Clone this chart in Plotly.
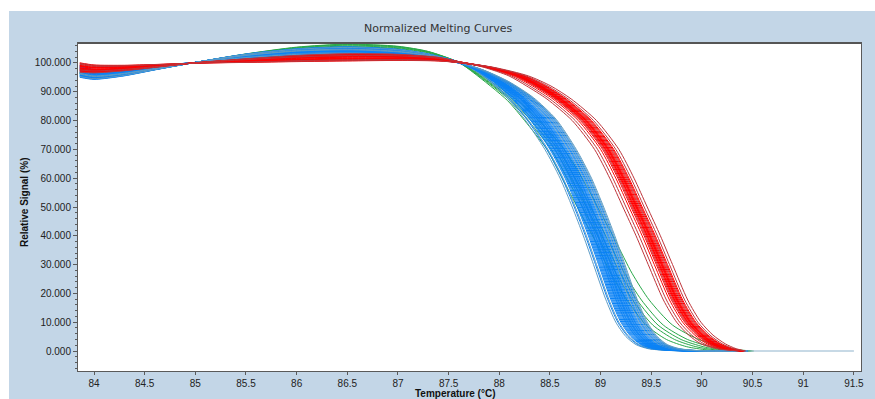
import plotly.graph_objects as go

# ---------------- data ----------------
x_ticks = [84, 84.5, 85, 85.5, 86, 86.5, 87, 87.5, 88, 88.5, 89, 89.5, 90, 90.5, 91, 91.5]
x_tick_text = ["84", "84.5", "85", "85.5", "86", "86.5", "87", "87.5", "88", "88.5",
               "89", "89.5", "90", "90.5", "91", "91.5"]
y_ticks = [0, 10, 20, 30, 40, 50, 60, 70, 80, 90, 100]
y_tick_text = ["0.000", "10.000", "20.000", "30.000", "40.000", "50.000", "60.000",
               "70.000", "80.000", "90.000", "100.000"]

# red group: centre curve, plateau spread weight, melt shift weight
red_T = [83.86, 84.0, 84.3, 84.6, 85.0, 85.5, 86.0, 86.5, 87.0, 87.4, 87.6, 87.9, 88.2, 88.4,
         88.6, 88.85, 89.07, 89.22, 89.35, 89.48, 89.6, 89.75, 89.88, 90.0, 90.12, 90.25, 90.4]
red_Y = [98.5, 98.0, 98.3, 99.0, 100.0, 100.8, 101.5, 101.9, 101.9, 101.3, 100.3, 98.5, 95.5, 92.0,
         87.5, 80.0, 70.0, 60.0, 50.0, 40.0, 30.0, 17.7, 10.0, 5.5, 2.5, 0.8, 0.0]
red_g = [-1.3, -1.1, -0.75, -0.4, 0.05, 0.5, 0.85, 1.0, 0.85, 0.5, 0.15, 0, 0, 0,
         0, 0, 0, 0, 0, 0, 0, 0, 0, 0, 0, 0, 0]
red_f = [0, 0, 0, 0, 0, 0, 0, 0, 0, 0, 0, 0.4, 0.8, 1.0,
         1.0, 1.0, 1.0, 1.0, 1.0, 1.0, 1.0, 1.0, 1.0, 1.0, 1.0, 0.8, 0.3]
red_dT = [-0.10, -0.07, -0.05, -0.04, -0.03, -0.02, -0.02, -0.01, 0.00, 0.00,
          0.01, 0.01, 0.02, 0.03, 0.04, 0.05, 0.06, 0.08, 0.11, -0.13]
red_dY = [1.2, 0.8, -0.5, 0.3, -1.0, 0.6, -0.2, 1.0, -0.7, 0.2,
          -1.2, 0.5, -0.4, 0.9, -0.8, 0.1, -0.3, 0.7, -1.1, 1.3]
red_dark = [1, 0, 0, 1, 0, 0, 0, 0, 0, 0, 0, 0, 0, 0, 1, 0, 0, 1, 1, 1]

# blue group
blue_T = [83.86, 84.0, 84.3, 84.6, 85.0, 85.5, 86.0, 86.5, 87.0, 87.3, 87.6, 87.8, 88.0, 88.2,
          88.4, 88.6, 88.75, 88.87, 88.98, 89.08, 89.2, 89.3, 89.4, 89.5, 89.62, 89.8, 90.0, 90.45]
blue_Y = [97.0, 96.0, 96.8, 98.3, 100.2, 102.4, 103.8, 104.2, 103.5, 102.3, 100.2, 97.5, 93.5, 88.0,
          80.5, 70.0, 60.0, 50.0, 40.0, 30.0, 18.0, 10.0, 5.0, 2.2, 0.8, 0.2, 0.0, 0.0]
blue_g = [-1.4, -1.2, -0.9, -0.5, 0.0, 0.5, 0.8, 1.0, 0.9, 0.6, 0.15, 0, 0, 0,
          0, 0, 0, 0, 0, 0, 0, 0, 0, 0, 0, 0, 0, 0]
blue_f = [0, 0, 0, 0, 0, 0, 0, 0, 0, 0, 0, 0.3, 0.6, 0.85,
          1.0, 1.0, 1.0, 1.0, 1.0, 1.0, 1.0, 1.0, 1.0, 1.0, 1.0, 0.9, 0.5, 0.0]
blue_dT = [-0.15, -0.13, -0.12, -0.10, -0.09, -0.08, -0.07, -0.06, -0.05, -0.05, -0.04, -0.03,
           -0.03, -0.02, -0.01, -0.01, 0.00, 0.00, 0.01, 0.02, 0.02, 0.03, 0.04, 0.04,
           0.05, 0.06, 0.07, 0.08, 0.09, 0.10, 0.11, 0.12, 0.13, 0.14, 0.15, 0.16]
blue_dY = [1.2, -1.5, 0.4, -0.8, 1.0, -0.3, 0.7, -1.2, 0.2, 1.4, -0.6, 0.9,
           -1.0, 0.3, -0.2, 1.1, -1.4, 0.6, -0.5, 0.8, -0.9, 1.3, 0.0, -1.1,
           0.5, -0.4, 1.0, -0.7, 0.3, -1.3, 0.6, -0.1, 1.2, -0.8, 0.4, -1.0]
blue_steel = [1, 0, 1, 0, 0, 0, 0, 0, 0, 0, 0, 0,
              0, 0, 0, 0, 0, 0, 0, 0, 0, 0, 0, 0,
              0, 0, 0, 1, 0, 0, 1, 0, 1, 0, 1, 1]

# green group
green_T = [83.86, 84.0, 84.3, 84.6, 85.0, 85.5, 86.0, 86.5, 87.0, 87.3, 87.6, 87.75, 88.08,
           88.25, 88.47, 88.65, 88.8, 88.95, 89.1, 89.26, 89.45, 89.65, 89.85, 90.05, 90.3, 90.45]
green_Y = [96.5, 95.2, 96.0, 97.8, 100.2, 103.0, 105.2, 106.2, 105.5, 103.8, 100.2, 96.5, 87.0,
           80.0, 70.0, 58.0, 48.0, 38.0, 27.0, 17.7, 9.0, 4.0, 1.5, 0.4, 0.0, 0.0]
green_g = [-0.5, -0.5, -0.4, -0.2, 0, 0.3, 0.6, 0.7, 0.6, 0.4, 0.1, 0, 0,
           0, 0, 0, 0, 0, 0, 0, 0, 0, 0, 0, 0, 0]
green_f = [0, 0, 0, 0, 0, 0, 0, 0, 0, 0, 0, 0.2, 0.5,
           0.7, 0.85, 1.0, 1.0, 1.0, 1.05, 1.1, 1.3, 1.6, 1.8, 1.6, 1.0, 0.3]
green_dT = [0.0, 0.05, 0.09, 0.13, 0.20]
green_dY = [0.0, -0.8, 0.5, -0.4, 0.3]

# flat baseline continuing to the end of the run
tail_T = [90.45, 91.5]
tail_Y = [0.0, 0.0]

# ---------------- styling ----------------
RED = "#ff0000"
RED_DARK = "#c0343a"
BLUE = "#0a82f5"
STEEL = "#5d9cc6"
GREEN = "#2aa84a"
TAIL = "#8fb3cc"
BG = "#c3d6e7"

fig = go.Figure()


def add_group(T, Y, g, f, dTs, dYs, colors):
    for dT, dY, c in zip(dTs, dYs, colors):
        xs = [t + dT * w for t, w in zip(T, f)]
        ys = [v + dY * w for v, w in zip(Y, g)]
        fig.add_trace(go.Scatter(x=xs, y=ys, mode="lines",
                                 line=dict(color=c, width=1, shape="spline", smoothing=0.7),
                                 hoverinfo="skip", showlegend=False))


add_group(green_T, green_Y, green_g, green_f, green_dT, green_dY, [GREEN] * len(green_dT))
fig.add_trace(go.Scatter(x=tail_T, y=tail_Y, mode="lines", line=dict(color=TAIL, width=1),
                         hoverinfo="skip", showlegend=False))
add_group(blue_T, blue_Y, blue_g, blue_f, blue_dT, blue_dY,
          [STEEL if s else BLUE for s in blue_steel])
add_group(red_T, red_Y, red_g, red_f, red_dT, red_dY,
          [RED_DARK if d else RED for d in red_dark])

W, H = 875, 399
L, R, T_, B = 78, 14, 43, 28
pw, ph = W - L - R, H - T_ - B


def px(xp):
    return (xp - L) / pw


def py(yp):
    return (H - B - yp) / ph


tick_font = dict(family="Liberation Sans, Arial, sans-serif", size=10, color="#222222")
axis_col = "#5a5a5a"

fig.update_layout(
    width=W, height=H, autosize=False,
    margin=dict(l=L, r=R, t=T_, b=B, pad=0, autoexpand=False),
    paper_bgcolor=BG, plot_bgcolor="white",
    showlegend=False,
    xaxis=dict(range=[83.842, 91.57], tickmode="array", tickvals=x_ticks, ticktext=x_tick_text,
               ticks="outside", ticklen=3, tickcolor=axis_col, showgrid=False, zeroline=False,
               showline=True, linecolor=axis_col, linewidth=1, mirror=True, automargin=False,
               tickfont=tick_font),
    yaxis=dict(range=[-6.94, 106.94], tickmode="array", tickvals=y_ticks, ticktext=y_tick_text,
               ticks="outside", ticklen=4, tickcolor=axis_col, showgrid=False, zeroline=False,
               showline=True, linecolor=axis_col, linewidth=1, mirror=True, automargin=False,
               tickfont=tick_font,
               minor=dict(ticks="outside", ticklen=2, dtick=2, tick0=0, tickcolor=axis_col)),
    shapes=[
        dict(type="rect", xref="paper", yref="paper", x0=px(0), x1=px(W), y0=py(11), y1=py(0),
             fillcolor="white", line=dict(width=0), layer="below"),
        dict(type="rect", xref="paper", yref="paper", x0=px(0), x1=px(9), y0=py(H), y1=py(0),
             fillcolor="white", line=dict(width=0), layer="below"),
        dict(type="line", xref="paper", yref="paper", x0=0, x1=1, y0=1, y1=1,
             line=dict(color="#555555", width=2)),
    ],
    annotations=[
        dict(text="Normalized Melting Curves", xref="paper", yref="paper",
             x=px(438), y=py(29), xanchor="center", yanchor="middle", showarrow=False,
             font=dict(family="DejaVu Sans, sans-serif", size=11, color="#333333")),
        dict(text="<b>Temperature (°C)</b>", xref="paper", yref="paper",
             x=px(455), y=py(401), xanchor="center", yanchor="bottom", showarrow=False,
             font=dict(family="Liberation Sans, Arial, sans-serif", size=10, color="#111111")),
        dict(text="<b>Relative Signal (%)</b>", xref="paper", yref="paper", textangle=-90,
             x=px(24), y=py(203), xanchor="center", yanchor="middle", showarrow=False,
             font=dict(family="Liberation Sans, Arial, sans-serif", size=10, color="#111111")),
    ],
)

fig.write_html(
    "out.html",
    config={"displayModeBar": False, "responsive": False},
    post_script="document.body.style.margin='0px';document.body.style.padding='0px';"
                "document.body.style.overflow='hidden';",
)
